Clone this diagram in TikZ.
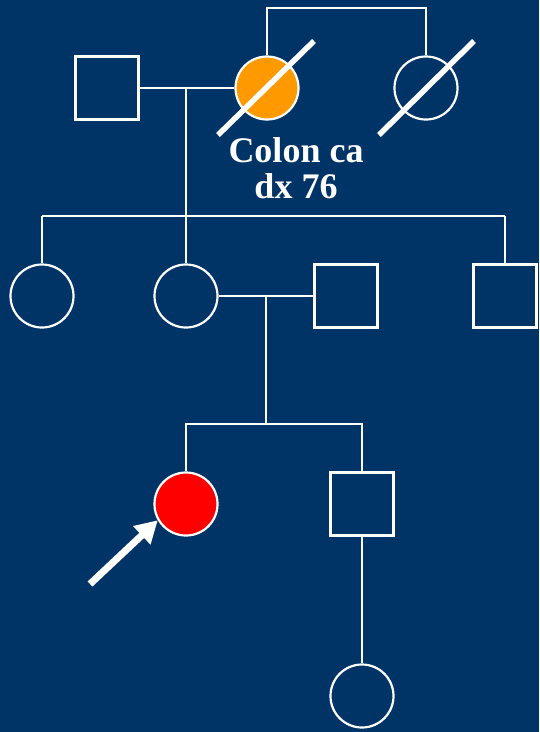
\documentclass[tikz,border=0pt]{standalone}
\usepackage{fontspec}
\setmainfont{Liberation Serif}
\usetikzlibrary{arrows.meta}
\definecolor{bgblue}{RGB}{0,51,102}
\definecolor{affected}{RGB}{255,153,0}
\definecolor{proband}{RGB}{255,0,0}
\begin{document}
\begin{tikzpicture}[x=1pt,y=-1pt,
  male/.style={draw=white,line width=2.2pt,minimum size=63pt,inner sep=0pt,rectangle},
  female/.style={draw=white,line width=2.2pt,minimum size=63pt,inner sep=0pt,circle},
  rel/.style={draw=white,line width=2.2pt},
  deceased/.style={draw=white,line width=5.5pt},
  label/.style={text=white,font=\fontsize{36}{36}\selectfont\bfseries,align=center}]
  % background
  \fill[bgblue] (0,0) rectangle (539,732);
  \useasboundingbox (0,0) rectangle (539,732);

  % generation I
  \node[male] (gf) at (107,88) {};
  \node[female,fill=affected] (gm) at (267,88) {};
  \node[female] (ga) at (426,88) {};
  % generation II
  \node[female] (a1) at (42,296) {};
  \node[female] (mo) at (186,296) {};
  \node[male] (fa) at (346,296) {};
  \node[male] (u1) at (505,296) {};
  % generation III
  \node[female,fill=proband] (pb) at (186,504) {};
  \node[male] (br) at (362,504) {};
  % generation IV
  \node[female] (ni) at (362,696) {};

  % helper points on the lines
  \coordinate (sibI) at (347,8);
  \coordinate (m1) at (186,88);
  \coordinate (sibII) at (186,216);
  \coordinate (m2) at (266,296);
  \coordinate (sibIII) at (266,424);
  \coordinate (b2a) at (42,216);
  \coordinate (b2b) at (505,216);

  % sibship of grandmother and her sister
  \draw[rel] (gm.north) |- (sibI) -| (ga.north);
  % grandparents' mating line and descent
  \draw[rel] (gf.east) -- (gm.west);
  \draw[rel] (m1) -- (sibII);
  \draw[rel] (b2a) -- (b2b);
  \draw[rel] (b2a) -- (a1.north);
  \draw[rel] (sibII) -- (mo.north);
  \draw[rel] (b2b) -- (u1.north);
  % parents' mating line and descent
  \draw[rel] (mo.east) -- (fa.west);
  \draw[rel] (m2) -- (sibIII);
  \draw[rel] (pb.north) |- (sibIII) -| (br.north);
  \draw[rel] (br.south) -- (ni.north);

  % deceased marks
  \coordinate (d1a) at (218,135); \coordinate (d1b) at (314,41);
  \coordinate (d2a) at (379,135); \coordinate (d2b) at (474,41);
  \draw[deceased] (d1a) -- (d1b);
  \draw[deceased] (d2a) -- (d2b);

  % diagnosis label
  \node[label,anchor=base] (dx) at (296,198) {Colon ca\\dx 76};

  % proband arrow
  \coordinate (arr) at (90,584);
  \draw[white,line width=7pt,-{Triangle[length=22pt,width=24pt]}] (arr) -- (pb.210);
\end{tikzpicture}
\end{document}
